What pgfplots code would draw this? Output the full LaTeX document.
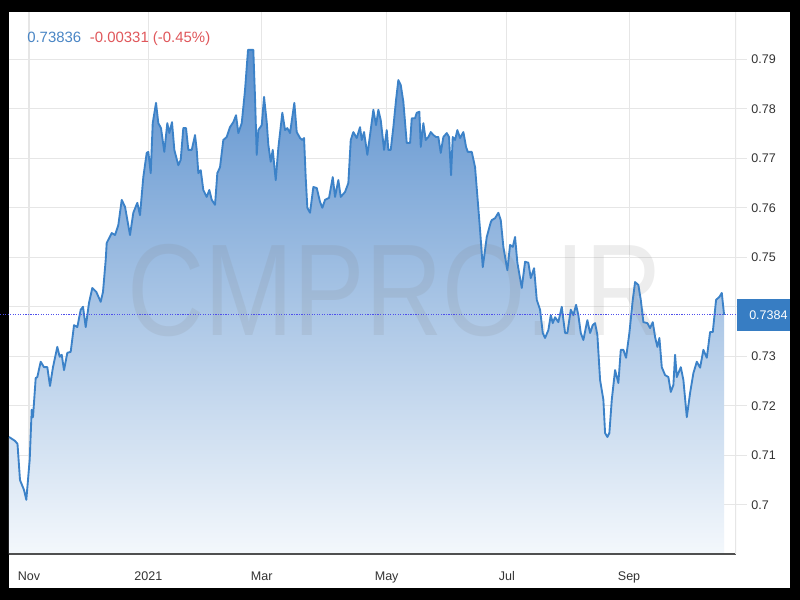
\documentclass[border=0pt]{standalone}
\usepackage{pgfplots}
\pgfplotsset{compat=1.18}
\usepackage{pgfplotstable}
\usepackage{fontspec}
\setmainfont{Liberation Sans}

\definecolor{lineblue}{RGB}{60,130,200}
\definecolor{filltop}{RGB}{92,145,206}
\definecolor{fillbot}{RGB}{244,248,252}
\definecolor{gridgray}{RGB}{230,230,230}
\definecolor{labelgray}{RGB}{51,51,51}
\definecolor{axisgray}{RGB}{80,80,80}
\definecolor{lastblue}{RGB}{55,125,195}
\definecolor{dotblue}{RGB}{80,80,235}
\definecolor{titleblue}{RGB}{74,134,197}
\definecolor{titlered}{RGB}{224,87,91}

% x = trading day index (0 = start of Nov 2020), y = rate
\pgfplotstableread{
x y
-7.22 0.7137
-5.05 0.7129
-4.15 0.7123
-3.25 0.7050
-1.81 0.7030
-0.97 0.7010
0.25 0.7091
0.97 0.7192
1.44 0.7177
2.42 0.7256
3.00 0.7258
4.22 0.7289
5.42 0.7278
6.61 0.7278
7.58 0.7240
8.66 0.7278
10.22 0.7319
11.08 0.7299
11.81 0.7303
12.64 0.7272
13.83 0.7307
15.05 0.7309
16.25 0.7363
17.44 0.7359
18.66 0.7394
19.49 0.7400
20.47 0.7359
21.66 0.7408
22.85 0.7438
24.30 0.7430
25.88 0.7410
26.71 0.7430
27.69 0.7495
28.05 0.7529
29.86 0.7549
31.05 0.7545
32.24 0.7565
33.47 0.7616
34.66 0.7602
36.46 0.7545
37.65 0.7590
39.10 0.7610
40.07 0.7585
41.26 0.7662
42.49 0.7711
43.07 0.7713
43.94 0.7670
44.66 0.7771
45.85 0.7812
46.68 0.7771
47.65 0.7761
48.84 0.7713
49.93 0.7771
50.65 0.7751
51.62 0.7773
52.46 0.7717
53.90 0.7686
54.77 0.7697
55.70 0.7761
56.68 0.7761
57.51 0.7717
58.74 0.7717
59.93 0.7747
60.54 0.7717
61.12 0.7670
61.99 0.7676
62.92 0.7636
64.15 0.7622
65.09 0.7636
65.96 0.7616
67.15 0.7606
67.98 0.7670
68.95 0.7682
70.14 0.7737
71.37 0.7743
72.56 0.7763
73.75 0.7773
74.73 0.7787
75.56 0.7751
76.79 0.7771
77.98 0.7838
79.06 0.7919
80.97 0.7919
81.59 0.7822
82.20 0.7707
82.78 0.7757
84.01 0.7767
84.84 0.7824
85.81 0.7773
86.39 0.7727
87.26 0.7693
87.98 0.7717
89.06 0.7656
90.00 0.7721
91.44 0.7792
92.42 0.7757
93.25 0.7761
94.22 0.7751
95.78 0.7812
96.64 0.7753
97.83 0.7741
98.66 0.7737
99.28 0.7741
99.89 0.7660
100.47 0.7600
101.44 0.7590
102.64 0.7642
103.86 0.7640
105.05 0.7612
105.88 0.7600
106.86 0.7616
108.30 0.7620
109.64 0.7662
110.47 0.7622
111.66 0.7656
112.53 0.7622
114.08 0.7632
115.27 0.7650
116.14 0.7737
117.08 0.7753
118.30 0.7741
119.49 0.7763
120.11 0.7737
120.94 0.7753
122.13 0.7707
123.10 0.7747
124.30 0.7798
125.27 0.7767
126.10 0.7798
126.97 0.7777
128.16 0.7717
129.13 0.7757
129.71 0.7717
130.58 0.7717
131.52 0.7763
132.49 0.7818
133.32 0.7858
134.19 0.7848
135.13 0.7814
136.35 0.7731
137.55 0.7731
138.16 0.7781
139.35 0.7781
139.96 0.7792
140.90 0.7794
141.41 0.7723
142.35 0.7771
143.21 0.7737
144.15 0.7743
145.02 0.7753
145.96 0.7747
146.93 0.7743
147.76 0.7743
148.63 0.7711
149.57 0.7743
150.79 0.7751
151.62 0.7743
152.35 0.7666
152.96 0.7743
153.79 0.7737
154.62 0.7757
155.60 0.7741
156.79 0.7753
157.76 0.7723
158.38 0.7713
159.82 0.7713
161.01 0.7682
162.82 0.7555
163.79 0.7480
165.23 0.7541
166.68 0.7571
167.04 0.7575
168.23 0.7579
169.42 0.7590
170.29 0.7575
171.23 0.7521
172.67 0.7474
173.65 0.7525
174.62 0.7521
175.45 0.7541
176.28 0.7489
177.87 0.7438
179.06 0.7491
180.25 0.7489
181.12 0.7458
182.31 0.7478
183.29 0.7414
184.48 0.7394
185.45 0.7347
186.28 0.7337
187.47 0.7353
188.34 0.7383
189.06 0.7367
189.89 0.7379
191.08 0.7369
192.31 0.7400
193.50 0.7347
194.33 0.7347
195.56 0.7394
196.50 0.7383
197.47 0.7404
198.30 0.7383
199.17 0.7347
200.11 0.7333
201.55 0.7373
202.53 0.7347
203.50 0.7363
204.33 0.7367
205.16 0.7343
206.14 0.7252
207.33 0.7212
207.94 0.7145
208.77 0.7137
209.49 0.7145
210.36 0.7212
211.55 0.7272
212.74 0.7246
213.61 0.7313
214.55 0.7313
215.52 0.7297
216.71 0.7347
217.94 0.7414
218.77 0.7450
219.96 0.7444
220.83 0.7414
221.77 0.7369
223.21 0.7367
224.19 0.7357
225.16 0.7369
225.99 0.7339
226.82 0.7319
227.55 0.7337
228.41 0.7278
229.60 0.7262
230.79 0.7258
231.66 0.7228
232.60 0.7242
233.21 0.7303
233.83 0.7258
235.27 0.7278
236.21 0.7252
237.44 0.7177
238.63 0.7226
239.82 0.7266
241.05 0.7289
242.24 0.7277
243.43 0.7313
244.66 0.7297
245.85 0.7349
246.82 0.7349
248.01 0.7414
249.21 0.7420
250.07 0.7428
250.90 0.73836
}\rates

\begin{document}
\begin{tikzpicture}[x=1pt,y=1pt]
% frame and panel
\fill[black] (-6.75,-34.3) rectangle (593.25,415.7);
\fill[white] (0,-25.3) rectangle (585.75,406.7);

\begin{axis}[
  at={(0,0)}, anchor=south west,
  scale only axis,
  width=545.25pt, height=406.7pt,
  xmin=-7.22, xmax=255.2,
  ymin=0.69, ymax=0.79956,
  axis line style={draw=none},
  xtick={0,43.1,84,129.1,172.5,216.6},
  xticklabels={Nov,2021,Mar,May,Jul,Sep},
  ytick={0.70,0.71,0.72,0.73,0.74,0.75,0.76,0.77,0.78,0.79},
  yticklabels={0.7,0.71,0.72,0.73,,0.75,0.76,0.77,0.78,0.79},
  ytick pos=right,
  xtick pos=bottom,
  x tick style={draw=none},
  y tick style={gridgray, line width=0.8pt},
  tick align=outside,
  major tick length=8pt,
  grid=major,
  grid style={gridgray, line width=0.8pt},
  tick label style={font=\fontsize{9.4}{11}\selectfont, text=labelgray},
  xticklabel style={yshift=-1.5pt},
  yticklabel style={anchor=west, xshift=0pt},
]
\addplot[draw=none, top color=filltop, bottom color=fillbot] table[x=x,y=y] {\rates} \closedcycle;
\node[text=gray, opacity=0.14, font=\fontsize{98}{100}\selectfont, xscale=0.82, inner sep=0pt]
  at (rel axis cs:0.531,0.487) {CMPRO.IR};
\addplot[lineblue, line width=1.4pt, line join=round] table[x=x,y=y] {\rates};
\draw[axisgray, line width=1.2pt] (rel axis cs:0,0) -- (rel axis cs:1,0);
\draw[gridgray, line width=0.8pt] (rel axis cs:1,0) -- (rel axis cs:1,1);
\end{axis}

% last value line and box
\draw[dotblue, densely dotted, line width=0.9pt] (-6.75,179.7) -- (545.25,179.7);
\fill[lastblue] (546,167.5) rectangle (585.75,191.25);
\node[anchor=west, text=white, font=\fontsize{9.4}{11}\selectfont, inner sep=0pt] at (555,179.5) {0.7384};

% header
\node[anchor=base west, inner sep=0pt, font=\fontsize{11.2}{13}\selectfont] at (13.5,383.5)
  {\textcolor{titleblue}{0.73836}\hspace{6.5pt}\textcolor{titlered}{-0.00331 (-0.45\%)}};

\pgfresetboundingbox
\path[use as bounding box] (-6.75,-34.3) rectangle (593.25,415.7);
\end{tikzpicture}
\end{document}
